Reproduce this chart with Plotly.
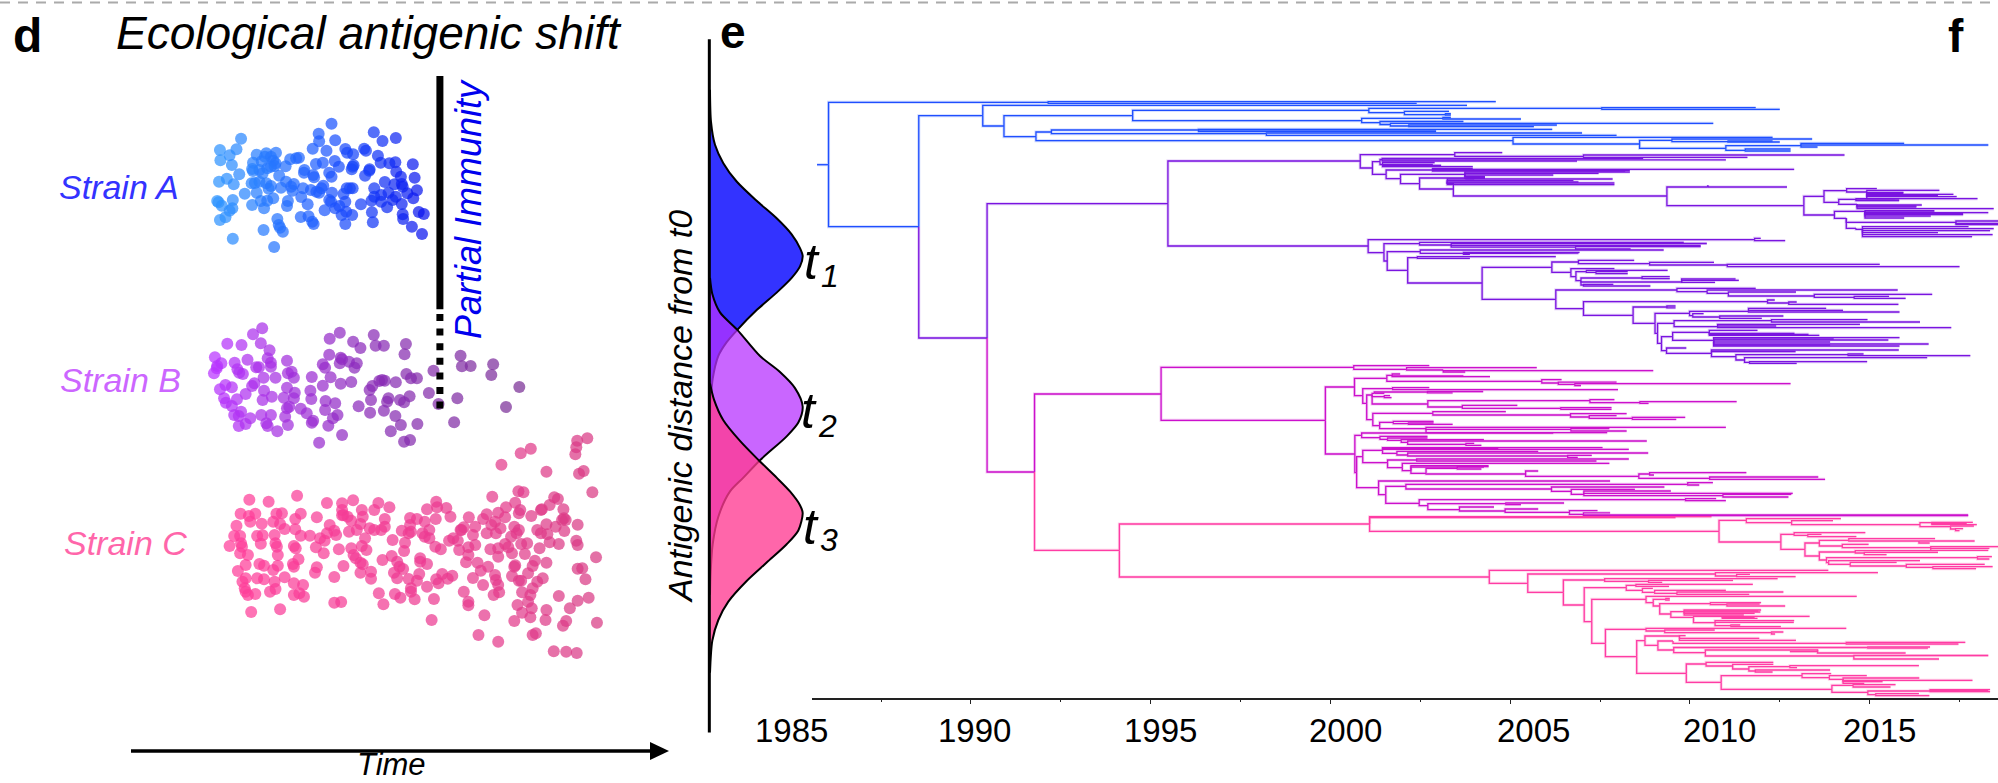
import plotly.graph_objects as go

W, H = 1998, 783
BLUE, PURPLE, MAGENTA, PINK = "#1f4fff", "#7a14e0", "#cc10cc", "#ff3ca4"

# ---------- panel d : simulated strains (time, antigenic position) ----------
strain_a = [(722,371),(525,416),(694,401),(814,397),(862,414),(695,424),(730,421),(833,423),(479,450),(515,448),(500,466),(681,446),(711,452),(752,447),(793,446),(756,458),(769,463),(797,452),(559,464),(580,460),(601,458),(577,470),(590,470),(645,475),(632,478),(651,473),(823,467),(480,481),(551,488),(570,484),(600,490),(595,482),(688,492),(703,488),(729,483),(861,487),(848,490),(829,488),(899,493),(505,495),(622,499),(590,500),(598,498),(738,500),(768,500),(770,496),(663,510),(805,508),(804,512),(863,515),(766,508),(549,507),(565,510),(582,505),(551,513),(521,523),(572,520),(608,527),(662,518),(717,518),(722,530),(682,525),(684,532),(795,527),(873,530),(903,533),(477,545),(494,536),(509,553),(555,549),(565,545),(580,550),(590,558),(623,545),(640,552),(660,565),(612,563),(637,572),(548,550),(704,557),(700,565),(838,546),(859,553),(875,552),(877,560),(762,565),(768,565),(755,565),(815,565),(677,570),(695,578),(689,575),(723,578),(748,582),(533,581),(559,578),(585,566),(634,560),(887,580),(908,571),(846,578),(862,590),(815,590),(830,585),(900,595),(595,595),(656,591),(473,603),(476,607),(507,600),(568,603),(582,602),(627,603),(717,600),(721,605),(809,602),(830,605),(855,600),(752,605),(875,612),(483,617),(506,625),(549,615),(575,625),(625,618),(670,613),(730,625),(707,631),(739,618),(786,613),(843,622),(500,632),(491,652),(479,660),(655,651),(672,649),(744,645),(767,645),(810,637),(877,643),(912,636),(923,642),(754,635),(604,657),(607,675),(683,672),(812,667),(878,657),(752,672),(574,690),(616,695),(897,680),(919,702),(507,716),(597,741),(610,683),(680,665)]
strain_b = [(571,985),(551,1003),(740,998),(814,1005),(495,1031),(526,1035),(568,1030),(718,1016),(769,1025),(818,1037),(836,1037),(884,1032),(785,1044),(587,1051),(717,1064),(881,1063),(1003,1067),(468,1072),(539,1079),(625,1082),(583,1075),(742,1073),(745,1078),(482,1090),(511,1088),(590,1088),(703,1093),(777,1090),(760,1085),(740,1090),(1074,1093),(1006,1099),(1025,1098),(473,1098),(472,1105),(558,1102),(564,1102),(590,1100),(517,1108),(708,1103),(772,1103),(944,1112),(466,1120),(521,1118),(529,1122),(635,1115),(627,1120),(885,1122),(895,1135),(908,1135),(1070,1125),(574,1133),(600,1133),(640,1133),(679,1131),(720,1132),(742,1151),(765,1146),(832,1140),(826,1143),(838,1142),(862,1147),(554,1150),(703,1157),(1131,1161),(491,1155),(505,1162),(479,1168),(625,1163),(549,1158),(575,1172),(811,1158),(805,1170),(676,1172),(642,1178),(535,1182),(934,1179),(488,1195),(516,1198),(572,1200),(592,1190),(618,1193),(640,1195),(678,1197),(892,1189),(996,1195),(808,1200),(846,1195),(871,1200),(843,1205),(492,1208),(709,1203),(730,1210),(880,1207),(955,1212),(505,1218),(625,1225),(630,1220),(781,1219),(708,1230),(1102,1221),(525,1235),(510,1245),(520,1248),(836,1232),(806,1238),(668,1240),(655,1226),(590,1245),(569,1245),(735,1245),(725,1255),(621,1250),(861,1248),(545,1255),(989,1267),(679,1268),(682,1262),(520,1278),(535,1272),(580,1270),(583,1278),(627,1275),(715,1277),(873,1275),(909,1272),(604,1294),(851,1294),(745,1305),(695,1328),(880,1325),(893,1320)]
strain_c_offset = 1260
strain_c = [(1279,55),(1257,62),(1255,82),(1253,103),(1156,86),(1134,100),(1092,134),(1190,155),(1271,153),(1261,161),(1290,217),(647,227),(543,239),(585,245),(712,249),(745,250),(769,241),(824,249),(848,262),(950,245),(952,262),(930,268),(972,264),(1072,230),(1129,214),(1140,217),(1207,232),(1215,237),(1197,255),(1122,248),(1227,268),(1102,262),(1180,268),(1178,270),(524,281),(542,288),(556,281),(602,281),(614,280),(655,281),(745,270),(748,285),(788,270),(815,270),(745,286),(757,290),(790,290),(690,292),(643,297),(838,297),(893,294),(908,297),(981,290),(949,297),(925,305),(1021,292),(1060,283),(1052,297),(1085,278),(1133,270),(1130,280),(1157,288),(1100,292),(1228,295),(1224,300),(1232,300),(1078,305),(545,305),(570,311),(595,305),(610,312),(765,302),(718,315),(785,312),(805,325),(838,320),(893,315),(935,330),(1070,315),(1035,320),(1010,322),(1003,330),(1090,325),(1120,320),(1130,330),(1190,313),(1210,320),(1258,314),(515,317),(620,327),(643,328),(728,332),(777,330),(760,335),(830,330),(815,330),(875,332),(895,335),(920,340),(935,355),(1005,330),(1170,330),(1178,340),(1229,333),(1080,340),(1060,340),(1125,340),(510,348),(523,348),(560,348),(572,346),(598,345),(655,347),(675,347),(732,345),(712,340),(795,355),(855,360),(882,368),(890,340),(925,350),(987,355),(1030,345),(1113,350),(1192,343),(500,378),(525,370),(527,380),(568,371),(600,370),(603,380),(697,355),(707,362),(688,382),(738,388),(765,385),(788,378),(798,390),(880,393),(948,380),(978,362),(997,362),(1000,390),(960,388),(1020,382),(1035,375),(1068,388),(1085,385),(1100,372),(1107,382),(1135,372),(1148,370),(1175,385),(1197,367),(1217,372),(1255,362),(1258,375),(523,400),(540,405),(605,405),(640,378),(644,385),(705,400),(770,405),(775,415),(853,408),(915,415),(1020,405),(1085,410),(1115,400),(1143,402),(1298,412),(535,435),(565,432),(575,437),(605,437),(638,432),(650,418),(690,442),(748,438),(785,428),(790,433),(833,420),(865,425),(870,440),(930,432),(915,425),(1015,427),(1040,428),(1063,440),(1122,436),(1165,422),(1190,428),(1160,438),(518,453),(595,450),(640,440),(686,458),(785,458),(808,455),(858,458),(878,447),(913,462),(1047,452),(1078,465),(1120,440),(1150,460),(1258,446),(1268,445),(535,475),(560,475),(575,478),(598,485),(620,472),(728,471),(808,476),(865,475),(890,477),(908,482),(950,478),(963,462),(985,467),(975,476),(1030,474),(1080,480),(1085,495),(1115,468),(1130,482),(1135,482),(1170,485),(1182,475),(1275,478),(528,485),(533,505),(640,490),(660,495),(895,505),(955,490),(930,500),(1052,495),(1160,505),(535,515),(600,507),(556,522),(588,515),(540,525),(640,525),(652,520),(662,530),(825,520),(860,522),(872,533),(895,515),(903,538),(945,537),(1010,515),(1075,525),(1087,517),(1137,517),(1155,525),(1217,528),(1282,533),(547,576),(610,568),(728,548),(743,546),(835,553),(1020,545),(1020,556),(1150,545),(1127,555),(1258,542),(1158,565),(1137,578),(1190,570),(1241,565),(940,600),(1055,586),(1120,603),(1155,592),(1188,600),(1233,603),(1226,617),(1300,608),(1042,645),(1085,665),(1160,645),(1167,640),(1206,694),(1233,695),(1256,699)]

# ---------- panel e : antigenic-distance densities ----------
t1_density = [150,153,165,190,230,290,350,395,420,428,420,395,350,290,232,200,175,158,152,150]
t1_distance = [130,200,250,290,330,372,410,445,475,492,515,540,572,610,653,680,710,760,810,850]
t2_density = [150,157,180,232,300,360,405,428,415,380,300,250,210,175,158,152,150]
t2_distance = [540,575,615,653,710,745,780,820,855,885,937,975,1005,1060,1120,1180,1230]
t3_density = [150,162,190,240,296,350,390,420,428,415,380,320,260,205,175,157,150]
t3_distance = [770,805,850,895,937,975,1005,1035,1052,1090,1120,1160,1200,1245,1285,1330,1400]

# ---------- panel f : tree, (end year, tip position, children...) ----------
def N(end, y, *kids, c=None):
    return (end, y, kids, c)

blue_top = N(1992.15,102.3,(2004.6,101.7),(2002.4,103.3))
blue_main = N(1990.33,115.7,
  (2003.8,105.3),
  N(1990.92,126,
    N(1994.5,115.7,
      N(2001.07,110.3,
        N(2007.55,108.3,(2011.83,107.7),(2012.5,109.3)),
        N(2002.06,112.7,(2003.3,111.3),N(2003.2,114.7,(2003.35,113.7),(2003.35,115)))),
      N(2000.87,120.7,
        N(2003.13,118.3,(2005.3,119),(2003.35,117.5)),
        N(2001.38,122.7,(2003.7,121.5),
          N(2001.67,124.5,(2010.65,123.3),N(2002.18,126,(2006.3,125),(2005.66,126.7)))))),
    N(1991.81,136.7,
      N(1992.24,132,
        N(1996.33,130,(2006.17,129.3),(2002.94,130),(2002.94,131.7)),
        N(1998.22,133.7,(2007,133),(2007.96,135.3))),
      N(2005.08,140.7,
        (2012.3,137.3),
        N(2008.6,144,
          N(2009.5,140.3,(2013.4,139),N(2011.06,141.7,(2012.3,141),(2012.5,142))),
          N(2011.0,148.3,
            N(2013.09,145.7,(2015.96,143.3),(2018.3,145),(2013.55,147)),
            N(2011.54,150.3,(2012.8,149),(2012.8,151)) ) ) ) ) ) )

purple_upper = N(2000.83,161,
  N(2003.46,154.7,(2004.78,152.7),N(2007.04,156.3,(2014.3,155),(2011.6,157.3))),
  N(2001.17,168,
    N(2001.38,161.7,
      N(2001.44,159.5,(2008.7,158.5),(2006.86,161),(2011.0,159.8)),
      N(2001.45,164.5,(2002.9,162.5),(2002.85,164.5),(2003.08,165.5),(2003.96,166.7))),
    N(2001.55,174.3,
      N(2002.84,170,(2003.96,168.3),(2012.9,169.3),(2008.33,170.3),(2008.2,171.2)),
      N(2001.95,178.7,
        N(2003.74,174.3,(2008.33,172),(2007.46,173.3),(2006.2,175),(2004.3,176.7),(2004.3,178.3)),
        N(2002.48,183.7,
          N(2003.77,178,(2004.3,177.5),(2004.0,178.8)),
          N(2003.42,189,
            N(2003.25,183.7,(2007.85,179),(2006.76,180.7),(2007.9,183),(2007.9,184.7),(2006.9,182)),
            N(2009.36,196,
              N(2010.5,187,(2010.5,185),(2012.7,187),(2010.5,186)),
              N(2013.17,205.7,
                N(2013.73,196.3,
                  N(2014.36,190.7,(2015.2,188.7),
                    N(2014.92,192,(2016.94,190.3),(2015.94,192.3),(2015.94,193.3),(2017.33,194.3),(2017.42,196.7),(2016.9,195.5),(2018.0,198.7))),
                  N(2014.14,202.3,
                    N(2014.62,199.3,(2015.7,198.7),(2015.82,200.7),(2015.82,199.8)),
                    N(2014.65,204.3,(2016.45,205),(2016.3,207),(2018.45,208.7),(2016.3,206)))),
                N(2014.02,215,
                  N(2014.87,211.3,(2016.8,210.7),(2018.3,212.7),(2017.6,214.7),(2016.7,216),(2015.96,218),(2016.8,211.8),(2017.6,213.7)),
                  N(2014.35,218.3,
                    N(2017.4,222.3,(2018.6,221),(2018.6,223.3),(2018.6,224.6)),
                    N(2014.62,228.3,
                      N(2014.8,229.3,(2017.75,226.7),(2018.45,228.7),(2018.35,230.7),(2016.9,232.7),(2018.42,234.7),(2017.85,236.7)
                      ) ) ) ) ) ) ) ) ) ) ) )

purple_lower = N(2001.05,246,
  N(2011.8,239.7,(2011.97,238.3),(2012.65,240.7)),
  N(2001.49,252.7,
    N(2002.48,243.7,
      (2009.83,242.3),
      N(2003.36,245,(2010.47,243.5),(2010.3,245.5),N(2006.82,247.2,(2010.3,246.7),(2008.35,249)))),
    N(2001.58,261,
      N(2002.5,251.7,(2009.27,250),N(2003.7,253.3,(2006.93,252.3),(2003.88,254.3),(2006.9,253.2))),
      N(2002.15,270.3,
        N(2002.42,257.7,(2006.27,256.7),(2003.88,258.3)),
        N(2004.22,283,
          N(2006.16,267.3,
            N(2006.9,262,(2008.45,260.3),
              N(2008.88,263.7,(2010.67,262.3),N(2011.04,265,(2015.28,264.3),(2017.5,266.7)))),
            N(2006.69,272.3,
              (2007.9,268.7),
              N(2006.83,276.7,
                N(2007.12,271.7,(2009.38,270.3),N(2007.39,272.3,(2008.27,271.7),(2008.27,273.7))),
                N(2006.97,280.7,
                  N(2008.67,278,(2009.44,276.7),(2009.44,278.7)),
                  N(2009.77,282,(2011.27,279),(2011.36,280.3),(2010.7,282.3)),
                  N(2007.04,285,(2007.87,284.3),(2008.9,286))))),
          ),
          N(2006.27,299.3,
            N(2009.64,290,
              (2011.83,288.3),
              N(2010.48,291.7,
                (2015.78,290),
                N(2011.07,293.3,(2012.95,292),
                  N(2013.46,296,(2016.74,294.3),N(2014.57,297.3,(2015.54,296.3),(2016,298.3)))))),
            N(2007.04,308.7,
              N(2012.16,301.7,(2012.36,300),N(2012.75,303,(2012.97,302),(2015.8,304.3))),
              N(2008.42,315.3,
                N(2009.36,307,(2009.6,306),(2009.6,307.8)),
                N(2009.03,323.3,
                  N(2009.99,313.3,
                    N(2011.63,311.3,(2013.79,308.3),(2014.26,310.3),(2015.83,312)),
                    N(2010.08,315.7,(2010.38,313.7),N(2010.83,317,(2012.6,316),(2012.0,318.3)))),
                  N(2009.1,333.3,
                    N(2009.56,323.3,
                      N(2012.27,320.7,(2014.94,319.7),(2016.4,322)),
                      N(2010.77,326.7,(2014.73,324.3),(2012.4,326),(2017.27,327.7))),
                    N(2009.21,343.3,
                      N(2009.52,336.7,
                        N(2010.54,332.3,(2011.88,330.3),(2012.91,333.3),(2013.6,335.3),(2013.3,334.3)),
                        N(2010.66,340.3,(2015.83,337.7),(2015.52,340),(2013.9,342),(2014.0,339),(2016.64,344),(2015.83,346),(2013.9,345))),
                      N(2009.35,350.7,
                        (2009.9,348),
                        N(2010.6,353.3,
                          (2015.81,350),(2012.94,351.5),
                          N(2011.28,356.7,
                            N(2014.4,354.7,(2014.83,354),(2017.8,355.7)),
                            N(2011.52,360,(2016.6,357.7),N(2011.66,362.3,(2014.93,361.7),(2012.97,363.3)))
                          ) ) ) ) ) ) ) ) ) ) ) ) ) )

magenta = N(1995.29,394,
  N(2000.65,367.3,
    (2002.75,365.7),
    N(2002.12,369.3,(2005.74,367.7),N(2003.14,370,(2008.98,370.7),(2003.75,372)))),
  N(1999.86,420.3,
    N(2000.67,387,
      N(2001.57,378.3,
        N(2001.72,375.3,(2001.94,374),(2004.44,376.7),(2003.7,376)),
        N(2005.88,381.3,(2006.43,379.7),N(2006.34,383,(2007.96,382.2),N(2006.8,384.4,(2012.8,383.7),(2006.97,385.5))))),
      N(2000.9,395.7,
        N(2001.73,388.7,(2002.75,387.7),(2008.0,389.7)),
        N(2001.01,403.3,
          N(2001.16,395,
            N(2001.22,393.3,N(2002.7,392,(2004.25,391.5),(2003.4,392.8)),(2001.5,393.3)),
            N(2001.5,396.7,(2001.66,395.7),(2001.7,397.7)),
            N(2002.71,404,
              N(2007.22,400.7,(2007.9,399.7),N(2008.61,402.7,(2011.3,401.7),(2008.85,403.3))),
              N(2003.67,407,(2005.2,405.3),N(2006.41,408.3,(2007.82,407.7),(2007.82,409.3))))),
          N(2001.18,419.7,
            N(2002.85,413.3,
              (2004.88,411.7),
              N(2006.68,415,(2008.24,413.7),
                N(2007.2,417,(2007.96,415.7),N(2008.4,418.3,(2009.87,417.3),(2009.62,419.3))))),
            N(2001.37,425.7,
              N(2001.75,422.3,(2002.87,421.3),N(2002.17,423.7,(2002.87,423),(2003.4,424.3))),
              N(2002.66,428.7,(2011.0,427.3),
                N(2006.69,429.3,(2007.76,428.7),(2008.24,431)),(2007.7,432.7))
            ) ) ) ) ),
    N(2000.68,454,
      N(2000.87,435.3,
        (2006.2,433),
        N(2001.38,437.7,(2002.7,436.3),
          N(2001.59,439.3,(2002.7,438),
            N(2001.97,440.3,(2004.27,439.7),
              N(2002.15,442.3,(2008.8,441),N(2003.77,444.3,(2004.0,443.3),(2004.2,445.3))))))),
      N(2000.73,472.7,
        N(2000.9,456.7,
          N(2001.45,450.3,(2007.57,447.7),(2008.3,449.3),(2004.67,448.3),
            N(2001.85,453.3,(2005.78,451.3),
              N(2002.15,455,(2008.84,453),N(2006.6,456,(2007.27,455.3),(2006.88,457.3))))),
          N(2001.59,462.7,
            N(2002.4,460,(2008.3,459),(2007.4,461)),
            N(2002.0,467.7,
              (2007.76,463.3),
              N(2002.24,470.7,(2004.4,465.7),(2004.27,467),
                N(2002.66,473.3,
                  N(2003.53,468.3,(2004.4,466.7),(2004.2,469)),
                  N(2005.43,474,(2005.78,471),
                    N(2008.58,476.3,
                      N(2008.88,474,(2011.57,472.7),(2009.0,475)),
                      N(2010.55,478.3,(2013.57,477),(2013.76,479.3))
                    ) ) ) ) ) ) ),
        N(2001.34,487.7,
          (2007.78,481),
          N(2001.54,494.7,
            N(2002.1,486.3,
              N(2009.94,484.3,(2010.64,482.7),(2010.26,485)),
              N(2006.15,489,(2009.29,487),
                N(2006.7,491.3,(2008.47,489.3),
                  N(2007.05,494.3,(2009.47,491),(2012.86,493.3),N(2010.92,495.7,(2012.82,494.3),(2012.74,497)))))),
            N(2002.47,503.3,
              N(2009.88,499.7,(2010.73,498.7),(2011.0,500.7)),
              N(2002.71,505.7,
                N(2004.88,503.7,(2006.5,503),(2005.3,504.7)),
                N(2003.59,509.7,
                  (2004.55,507),
                  N(2004.86,511,(2005.78,509),
                    N(2006.65,512.3,(2007.43,510.7),
                      N(2007.04,514.3,(2007.78,512.8),(2017.74,515),(2017.74,515.7))
                    ) ) ) ) ) ) ) ) ) ) )

pink = N(1994.13,550.3,
  N(2001.09,524,
    (2010.6,516.7),(2009.6,517.6),
    N(2010.81,531.3,
      N(2011.57,520.3,
        (2014.2,518.7),
        N(2012.83,522.7,
          (2013.98,520.7),
          N(2016.4,524.7,
            N(2016.73,522.7,(2017.87,522.3),(2017.98,524.7),(2017.7,523.5)),
            N(2017.25,526.7,(2017.9,526),N(2017.39,529,(2017.6,528.7),(2017.5,530.7)))))),
      N(2012.53,542,
        N(2012.9,534.3,(2014.88,532.7),N(2013.28,535.3,(2013.66,534.3),(2014.63,536.7))),
        N(2013.2,549.3,
          N(2013.6,543,
            N(2014.42,540.3,(2016.82,538.7),N(2016.37,541,(2017.92,541),(2016.67,543))),
            N(2014.24,546,(2014.97,544.3),N(2016.7,547.7,(2018.6,546.7),(2018.33,548.3),(2018.3,550.3)))),
          N(2013.6,556,
            N(2014.6,552,(2016.9,550.7),N(2014.85,553,(2016.9,552.3),(2015.47,554.7))),
            N(2013.8,560,
              N(2018.0,557.7,(2018.4,556.7),(2018.33,559)),
              N(2013.86,562.7,
                (2016.4,560.7),
                N(2014.46,564.3,(2015.75,562.3),
                  N(2016.02,566,(2018.2,564.3),N(2016.76,567.3,(2018.42,566.7),(2017.96,568.7)))
                ) ) ) ) ) ) ) ),
  N(2004.42,577,
    (2013.85,570.3),
    N(2005.49,583.3,
      N(2010.71,574,(2015.23,572.7),N(2011.3,576,(2011.67,574.3),(2012.94,576.7))),
      N(2006.48,592.3,
        N(2007.63,580,(2012.44,578.7),N(2008.85,581.3,(2011.2,580.3),(2009.23,582.3))),
        N(2007.06,605,
          N(2008.23,587.7,
            N(2008.5,585.3,(2011.75,584.3),(2009.42,586.3)),
            N(2008.68,590.3,(2008.97,588.3),
              N(2009.02,592.3,(2011.0,590.3),N(2009.64,593.3,(2012.6,592),(2011.65,594.3))))),
          N(2007.27,621.7,
            N(2008.78,599.3,
              (2014.64,596.3),
              N(2008.98,602.7,
                N(2009.33,599.3,(2009.44,598.3),(2009.44,600)),
                N(2009.16,606,
                  N(2010.57,603.7,(2011.98,602.7),N(2011.03,604.7,(2011.94,604),(2012.65,606))),
                  N(2009.47,614,
                    N(2009.84,611.7,(2011.98,610),(2011.96,612),(2011.8,613.3),(2011.5,615),(2011.9,611)),
                    N(2010.1,617.3,
                      N(2010.9,616.3,(2013.33,616.3),(2011.88,618.3),(2011.8,617.3)),
                      N(2010.7,622.7,(2012.9,620.7),(2012.89,622.3),
                        N(2011.14,625.7,(2011.4,625),(2012.53,626.7)))
                    ) ) ) ) ),
            N(2007.65,643.3,
              N(2008.78,629.3,
                (2014.35,628.3),
                N(2009.3,631,(2010.69,630),N(2012.27,632.7,(2012.6,632),(2012.37,634)))),
              N(2008.52,656.7,
                N(2008.75,640.7,
                  N(2009.71,636,(2009.88,635.7),(2011.93,638.3),(2012.95,640.3)),
                  N(2009.11,645.3,
                    N(2009.53,641,
                      N(2014.35,643.3,(2017.66,642.3),(2017.47,644))),
                    N(2009.55,650,
                      N(2014.95,647.5,(2016.68,647),(2016.62,648.2)),
                      N(2010.43,652.7,
                        N(2013.55,650,(2013.55,649.3),(2012.78,651.7),(2016.0,653)),
                        N(2014.56,656,(2018.3,655.5),(2016.93,659)))))),
                N(2009.9,673.3,
                  N(2010.45,664,
                    (2012.32,662.3),
                    N(2011.19,666,(2012.32,664.3),
                      N(2011.64,669,
                        N(2012.78,666.7,(2016.37,665.7),(2012.98,667.7)),
                        N(2011.82,671,(2013.9,670),(2012.3,672))))),
                  N(2010.87,682.3,
                    N(2013.12,675.7,
                      (2013.93,673.7),
                      N(2013.88,677.7,
                        (2014.92,675.7),
                        N(2014.26,679.3,(2016.38,678),(2017.86,680.3),(2015.36,681.7),(2014.85,683.3)))),
                    N(2013.95,689.3,
                      N(2014.54,685.3,(2015.72,684.7),(2015.58,687)),
                      N(2014.95,692.3,
                        N(2016.68,691,(2018.35,689.7),(2018.35,691.7),(2018.3,690.7)),
                        N(2015.17,694.7,(2016.37,693.7),(2016.66,695.7)))
                    ) ) ) ) ) ) ) ) ) ),
  c=PINK)

tree = N(1986.04,164.7,
  blue_top,
  N(1988.55,226.7,
    blue_main,
    N(1990.45,338,
      N(1995.48,203.7,purple_upper,purple_lower),
      N(1991.77,472,magenta,pink,c=MAGENTA),
      c=PURPLE)),
  c=BLUE)
root_start_year = 1985.72

axis_start_year, axis_end_year = 1985.58, 2018.57
major_ticks = [1990,1995,2000,2005,2010,2015]
tick_labels = ["1985","1990","1995","2000","2005","2010","2015"]
tick_label_years = [1985.0,1990.1,1995.28,2000.43,2005.65,2010.82,2015.28]

# ---------- build ----------
segs = {}
def walk(node, px0, py, color):
    end, y = node[0], node[1]
    kids = node[2] if len(node) > 2 else ()
    c = node[3] if len(node) > 3 and node[3] else color
    xs, ys = segs.setdefault(c, ([], []))
    xs += [px0, px0, end, None]
    ys += [py, y, y, None]
    for k in kids:
        walk(k, end, y, c)
walk(tree, root_start_year, tree[1], BLUE)

fig = go.Figure()

for dens, dist, fc in [(t1_density, t1_distance, "#3333ff"),
                       (t2_density, t2_distance, "rgba(183,51,255,0.75)"),
                       (t3_density, t3_distance, "rgba(255,59,146,0.78)")]:
    fig.add_trace(go.Scatter(x=dens, y=dist, xaxis="x3", yaxis="y3", mode="lines", fill="toself",
                             fillcolor=fc, line=dict(color="black", width=2, shape="spline", smoothing=0.8),
                             hoverinfo="skip", showlegend=False))

for c, (xs, ys) in segs.items():
    fig.add_trace(go.Scatter(x=xs, y=ys, xaxis="x2", yaxis="y2", mode="lines", opacity=0.22,
                             line=dict(color=c, width=3), hoverinfo="skip", showlegend=False))
for c, (xs, ys) in segs.items():
    fig.add_trace(go.Scatter(x=xs, y=ys, xaxis="x2", yaxis="y2", mode="lines",
                             line=dict(color=c, width=1.3), hoverinfo="skip", showlegend=False))

for pts, off, scale in [(strain_a, 0, [[0, "#2f95ff"], [0.5, "#1f5cff"], [1, "#0a14ee"]]),
                        (strain_b, 0, [[0, "#b833ff"], [0.5, "#8a2bb8"], [1, "#7a2f96"]]),
                        (strain_c, strain_c_offset, [[0, "#ff3d9a"], [0.5, "#ee3a92"], [1, "#d83a84"]])]:
    xv = [p[0] for p in pts]
    yv = [p[1] + off for p in pts]
    fig.add_trace(go.Scatter(x=xv, y=yv, xaxis="x", yaxis="y", mode="markers",
                             marker=dict(size=12, color=xv, colorscale=scale, opacity=0.72, line=dict(width=0)),
                             hoverinfo="skip", showlegend=False))

def px(v): return v / W
def py(v): return 1 - v / H
ann = []
def text(s, x, y, size, color="black", italic=True, bold=False, angle=0):
    t = f"<b>{s}</b>" if bold else s
    ann.append(dict(text=t, x=px(x), y=py(y), xref="paper", yref="paper", showarrow=False,
                    xanchor="center", yanchor="middle", textangle=angle,
                    font=dict(family="Liberation Sans", size=size, color=color,
                              style="italic" if italic else "normal")))
text("d", 27, 36, 48, italic=False, bold=True)
text("e", 733, 32, 46, italic=False, bold=True)
text("f", 1956, 36, 46, italic=False, bold=True)
text("Ecological antigenic shift", 369, 33, 46)
text("Strain A", 119, 187, 34, "#3333ff")
text("Strain B", 120, 380, 34, "#cc66ff")
text("Strain C", 126, 543, 34, "#ff66aa")
text("Partial Immunity", 468, 209, 36, "#0000ee", angle=-90)
text("Time", 391, 764, 31)
text("Antigenic distance from t0", 680, 407, 34, angle=-90)
text("t", 812, 262, 50); text("1", 830, 276, 32)
text("t", 809, 411, 50); text("2", 827, 426, 32)
text("t", 811, 527, 50); text("3", 829, 540, 32)

# year labels sit on the tree's time scale; 1985 lies just left of the drawn axis,
# so they are placed through the same year-to-page mapping instead of the clipped axis
tree_left, tree_right = 812, W
def year_to_page(yr):
    return tree_left + (yr - axis_start_year) * (tree_right - tree_left) / (axis_end_year - axis_start_year)
for lab, yr in zip(tick_labels, tick_label_years):
    text(lab, year_to_page(yr), 730, 33, italic=False)

shapes = [
    dict(type="line", xref="paper", yref="paper", x0=0, x1=1, y0=py(2.5), y1=py(2.5),
         line=dict(color="#aaaaaa", width=2, dash="10px,8px")),
    dict(type="line", xref="x", yref="y", x0=958, x1=958, y0=228, y1=928, line=dict(color="black", width=7)),
    dict(type="line", xref="x", yref="y", x0=958, x1=958, y0=942, y1=1228,
         line=dict(color="black", width=7, dash="7px,7.6px")),
    dict(type="line", xref="paper", yref="paper", x0=px(131), x1=px(652), y0=py(751), y1=py(751),
         line=dict(color="black", width=3.5)),
    dict(type="path", xref="paper", yref="paper",
         path=f"M {px(650)} {py(742)} L {px(669)} {py(751)} L {px(650)} {py(760)} Z",
         fillcolor="black", line=dict(color="black", width=0)),
    dict(type="line", xref="x3", yref="y3", x0=148, x1=148, y0=20, y1=1530, line=dict(color="black", width=3)),
]

fig.update_layout(
    width=W, height=H, margin=dict(l=0, r=0, t=0, b=0), paper_bgcolor="white", plot_bgcolor="rgba(0,0,0,0)",
    showlegend=False, annotations=ann, shapes=shapes,
    xaxis=dict(domain=[0, 720 / W], range=[0, 1568], visible=False),
    yaxis=dict(domain=[0, 1], range=[2349, 0], visible=False),
    xaxis2=dict(domain=[tree_left / W, 1], range=[axis_start_year, axis_end_year], anchor="free", position=1 - 699 / H,
                showgrid=False, zeroline=False, showline=True, linecolor="#222222", linewidth=2,
                ticks="outside", tickvals=major_ticks, ticklen=4, tickwidth=1, tickcolor="#222222",
                showticklabels=False,
                minor=dict(tickvals=[1987.5,1992.5,1997.5,2002.5,2007.5,2012.5,2017.5], ticks="outside", ticklen=2,
                           tickwidth=1, tickcolor="#222222", showgrid=False)),
    yaxis2=dict(domain=[0, 1], range=[783, 0], visible=False, anchor="x2"),
    xaxis3=dict(domain=[660 / W, 880 / W], range=[0, 660], visible=False),
    yaxis3=dict(domain=[0, 1], range=[1640, -65.3], visible=False, anchor="x3"),
)
fig.write_html("out.html", config={"displayModeBar": False},
               post_script="document.body.style.margin='0';document.body.style.overflow='hidden';")
